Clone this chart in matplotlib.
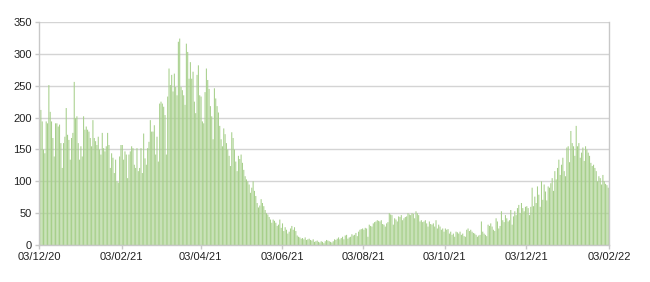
import matplotlib
matplotlib.use("Agg")
import matplotlib.pyplot as plt
import matplotlib.dates as mdates
import pandas as pd
import numpy as np

# ====== データ（日次, 03/12/20 から） ======
START = "2020-12-03"

dec_jan = [217, 212, 194, 150, 144, 194, 191, 251, 209, 194,
           168, 139, 191, 191, 186, 189, 160, 121, 160, 170,
           215, 173, 165, 134, 168, 176, 256, 199, 202, 160,
           134, 155, 139, 202, 181, 186, 181, 178, 168, 155,
           196, 168, 163, 157, 170, 150, 142, 176, 152, 147,
           155, 176, 157, 121, 144, 137, 113, 134, 100, 98,
           139, 157]
feb_mar = [157, 134, 147, 142, 105, 142, 147, 155, 152, 126,
           121, 152, 116, 121, 152, 113, 175, 136, 126, 152,
           162, 196, 178, 178, 188, 142, 170, 131, 222, 225,
           222, 217, 204, 142, 233, 277, 251, 267, 241, 269,
           248, 235, 319, 324, 248, 243, 235, 220, 316, 303,
           261, 287, 261, 272, 225, 207, 267, 282, 235]
apr_may = [233, 194, 191, 240, 277, 259, 245, 218, 202, 166,
           246, 230, 218, 208, 187, 166, 155, 183, 174, 160,
           150, 140, 124, 177, 168, 150, 131, 116, 140, 135,
           142, 129, 118, 108, 103, 100, 95, 82, 90, 100,
           85, 77, 66, 59, 62, 72, 66, 61, 55, 50,
           48, 44, 40, 35, 40, 38, 35, 30, 32, 40,
           27]
jun_jul = [34, 22, 28, 24, 18, 21, 26, 30, 24, 28,
           22, 15, 13, 12, 10, 11, 9, 12, 8, 9,
           10, 8, 7, 9, 5, 6, 7, 5, 4, 6,
           5, 3, 6, 8, 7, 6, 5, 4, 6, 9,
           8, 10, 12, 9, 11, 13, 9, 15, 16, 10,
           12, 13, 17, 15, 16, 19, 14, 21, 24, 25,
           26]
aug_sep = [24, 27, 26, 13, 32, 30, 29, 34, 36, 37,
           39, 38, 37, 39, 33, 32, 29, 34, 36, 50,
           48, 47, 32, 42, 40, 37, 45, 44, 47, 39,
           42, 44, 45, 50, 48, 47, 50, 49, 42, 53,
           50, 47, 37, 39, 36, 37, 39, 34, 29, 37,
           33, 32, 34, 29, 39, 26, 32, 29, 24, 26,
           21]
oct_nov = [26, 24, 25, 18, 21, 16, 18, 13, 21, 20,
           18, 21, 16, 18, 14, 13, 24, 26, 22, 24,
           21, 19, 18, 16, 13, 15, 16, 37, 21, 18,
           16, 14, 32, 30, 34, 29, 24, 22, 42, 37,
           26, 30, 53, 39, 36, 47, 42, 37, 39, 55,
           32, 45, 53, 47, 58, 63, 50, 66, 58, 53,
           60]
dec_jan2 = [61, 58, 47, 60, 90, 61, 76, 66, 92, 79,
            60, 100, 71, 95, 84, 70, 92, 90, 97, 105,
            85, 116, 103, 121, 134, 110, 126, 137, 116, 108,
            153, 155, 130, 179, 160, 155, 140, 187, 155, 160,
            137, 145, 153, 132, 155, 150, 145, 140, 129, 124,
            126, 121, 116, 100, 108, 105, 95, 110, 100, 96,
            94, 90]

tick_dates = ["2020-12-03", "2021-02-03", "2021-04-03", "2021-06-03",
              "2021-08-03", "2021-10-03", "2021-12-03", "2022-02-03"]
y_ticks = [0, 50, 100, 150, 200, 250, 300, 350]

values = dec_jan + feb_mar + apr_may + jun_jul + aug_sep + oct_nov + dec_jan2
dates = pd.date_range(START, periods=len(values), freq="D")

# ====== 描画 ======
fig = plt.figure(figsize=(6.5, 2.82), dpi=100)
ax = fig.add_axes([0.06, 0.131, 0.877, 0.791])

bars = ax.bar(dates, values, width=0.78, align="edge", color="#a6cf8a",
              edgecolor="none", zorder=2)
for b in bars:
    b.set_snap(False)

ticks = pd.to_datetime(tick_dates)
ax.set_xlim(ticks[0], ticks[-1])
ax.set_xticks(ticks)
ax.xaxis.set_major_formatter(mdates.DateFormatter("%d/%m/%y"))
ax.set_ylim(0, 350)
ax.set_yticks(y_ticks)

ax.grid(axis="y", color="#d4d4d4", linewidth=1.0, zorder=0)
ax.set_axisbelow(True)
for side in ["left", "bottom", "right"]:
    ax.spines[side].set_color("#c8c8c8")
    ax.spines[side].set_linewidth(1.0)
ax.spines["top"].set_visible(False)

ax.tick_params(axis="both", labelsize=8, colors="#c8c8c8", labelcolor="#222222",
               length=3, width=1.0, pad=2)
for lab in ax.get_xticklabels() + ax.get_yticklabels():
    lab.set_fontfamily("Liberation Sans")

fig.savefig("out.png", dpi=100)
